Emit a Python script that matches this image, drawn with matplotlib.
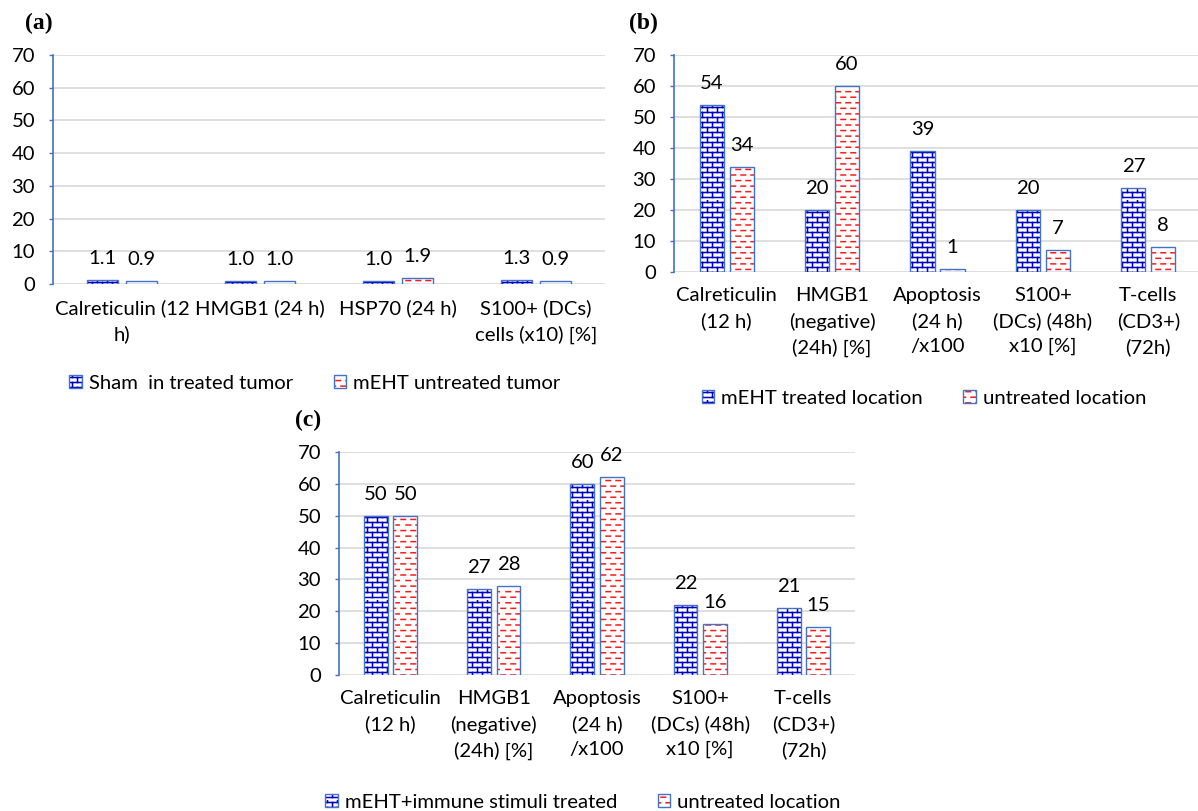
import warnings
import numpy as np
import matplotlib
matplotlib.use("Agg")
import matplotlib.pyplot as plt
import matplotlib.patches as mpatches
import matplotlib.hatch as mhatch
from matplotlib.path import Path
from matplotlib.textpath import TextPath
from matplotlib.font_manager import FontProperties
from matplotlib.legend_handler import HandlerTuple

warnings.filterwarnings("ignore")

# ---- data ----
a_categories = ["Calreticulin (12\nh)", "HMGB1 (24 h)", "HSP70 (24 h)", "S100+ (DCs)\ncells (x10) [%]"]
a_sham = [1.1, 1.0, 1.0, 1.3]
a_meht = [0.9, 1.0, 1.9, 0.9]

bc_categories = ["Calreticulin\n(12 h)", "HMGB1\n(negative)\n(24h) [%]", "Apoptosis\n(24 h)\n/x100",
                 "S100+\n(DCs) (48h)\nx10 [%]", "T-cells\n(CD3+)\n(72h)"]
b_treated = [54, 20, 39, 20, 27]
b_untreated = [34, 60, 1, 7, 8]
c_treated = [50, 27, 60, 22, 21]
c_untreated = [50, 28, 62, 16, 15]

BLUE = "#0000C8"
RED = "#FF1A1A"
EDGE = "#4472C4"
GRID = "#D9D9D9"
FAMILY = "Lato"

# pick a size so that "Calreticulin" is about as wide as in the picture (~98 px)
_w = TextPath((0, 0), "Calreticulin", size=100, prop=FontProperties(family=FAMILY)).get_extents().width
FS = 98 * 72 / _w


# brick and dash fills like the Excel pattern fills
class BrickHatch(mhatch.HatchPatternBase):
    rows, cols = 20, 10

    def __init__(self, hatch, density):
        self.on = "b" in hatch
        self.num_vertices = (2 * self.rows + 2 * self.rows * self.cols) if self.on else 0

    def set_vertices_and_codes(self, vertices, codes):
        k = 0
        for i in range(self.rows):
            y0 = (i + 0.5) / self.rows
            y1 = (i + 1.5) / self.rows
            vertices[k] = (0, y0); vertices[k + 1] = (1, y0)
            codes[k] = Path.MOVETO; codes[k + 1] = Path.LINETO
            k += 2
            for j in range(self.cols):
                x = (j + 0.25 + 0.5 * (i % 2)) / self.cols
                vertices[k] = (x, y0); vertices[k + 1] = (x, y1)
                codes[k] = Path.MOVETO; codes[k + 1] = Path.LINETO
                k += 2


class DashHatch(mhatch.HatchPatternBase):
    rows, cols = 18, 10

    def __init__(self, hatch, density):
        self.on = "d" in hatch
        self.num_vertices = 2 * self.rows * self.cols if self.on else 0

    def set_vertices_and_codes(self, vertices, codes):
        k = 0
        for i in range(self.rows):
            y = (i + 0.5) / self.rows
            for j in range(self.cols):
                x0 = (j + 0.1 + 0.5 * (i % 2)) / self.cols
                x1 = x0 + 0.45 / self.cols
                vertices[k] = (x0, y); vertices[k + 1] = (x1, y)
                codes[k] = Path.MOVETO; codes[k + 1] = Path.LINETO
                k += 2


mhatch._hatch_types.append(BrickHatch)
mhatch._hatch_types.append(DashHatch)

plt.rcParams["font.family"] = [FAMILY, "DejaVu Sans"]
plt.rcParams["hatch.linewidth"] = 1.1

W, H = 1198, 811
fig = plt.figure(figsize=(W / 100, H / 100), dpi=100)


def px_axes(left, right, top, bottom):
    return fig.add_axes([left / W, 1 - bottom / H, (right - left) / W, (bottom - top) / H])


def bars(ax, x, vals, hatch, color):
    ax.bar(x, vals, 0.23, color="white", edgecolor=color, hatch=hatch, linewidth=0, zorder=2)
    ax.bar(x, vals, 0.23, facecolor="none", edgecolor=EDGE, linewidth=1.0, zorder=3)


def label_bars(ax, x, vals, fmt):
    for xi, v in zip(x, vals):
        ax.annotate(fmt % v, (xi, v), xytext=(0, 15.5), textcoords="offset points",
                    ha="center", va="center", fontsize=FS)


def panel(ax, cats, s1, s2, names, fmt, leg_xy, letter, letter_xy):
    x = np.arange(len(cats))
    bars(ax, x - 0.142, s1, "b", BLUE)
    bars(ax, x + 0.142, s2, "d", RED)
    label_bars(ax, x - 0.142, s1, fmt)
    label_bars(ax, x + 0.142, s2, fmt)
    ax.set_ylim(0, 70)
    ax.set_xlim(-0.5, len(cats) - 0.5)
    ax.set_yticks(range(0, 71, 10))
    ax.set_xticks(x)
    ax.set_xticklabels(cats, fontsize=FS, linespacing=1.55)
    ax.tick_params(axis="x", length=0, pad=11)
    ax.tick_params(axis="y", length=3, color=EDGE, width=1, pad=10, labelsize=FS)
    for s in ["top", "right", "bottom"]:
        ax.spines[s].set_visible(False)
    ax.spines["left"].set_color(EDGE)
    ax.spines["left"].set_linewidth(1.2)
    ax.yaxis.grid(True, color=GRID, linewidth=1.2)
    ax.set_axisbelow(True)

    h1 = (mpatches.Patch(facecolor="white", edgecolor=BLUE, hatch="b", linewidth=0),
          mpatches.Patch(facecolor="none", edgecolor=EDGE, linewidth=1))
    h2 = (mpatches.Patch(facecolor="white", edgecolor=RED, hatch="d", linewidth=0),
          mpatches.Patch(facecolor="none", edgecolor=EDGE, linewidth=1))
    ax.legend([h1, h2], names, handler_map={tuple: HandlerTuple(ndivide=1, pad=0)},
              loc="center", bbox_to_anchor=(leg_xy[0] / W, 1 - leg_xy[1] / H),
              bbox_transform=fig.transFigure, ncol=2, frameon=False, fontsize=FS,
              handlelength=0.62, handleheight=0.62, handletextpad=0.35, columnspacing=2.0)
    fig.text(letter_xy[0] / W, 1 - letter_xy[1] / H, letter, fontsize=17, fontweight="bold",
             family="Liberation Serif", ha="left", va="center")


ax_a = px_axes(53, 605, 55, 284)
panel(ax_a, a_categories, a_sham, a_meht, ["Sham  in treated tumor", "mEHT untreated tumor"],
      "%.1f", (315, 383), "(a)", (25, 23))

ax_b = px_axes(674, 1201, 55, 272)
panel(ax_b, bc_categories, b_treated, b_untreated, ["mEHT treated location", "untreated location"],
      "%d", (924, 398), "(b)", (629, 23))

ax_c = px_axes(339, 855, 452, 675)
panel(ax_c, bc_categories, c_treated, c_untreated, ["mEHT+immune stimuli treated", "untreated location"],
      "%d", (583, 802), "(c)", (295, 420))

fig.savefig("out.png", dpi=100)
